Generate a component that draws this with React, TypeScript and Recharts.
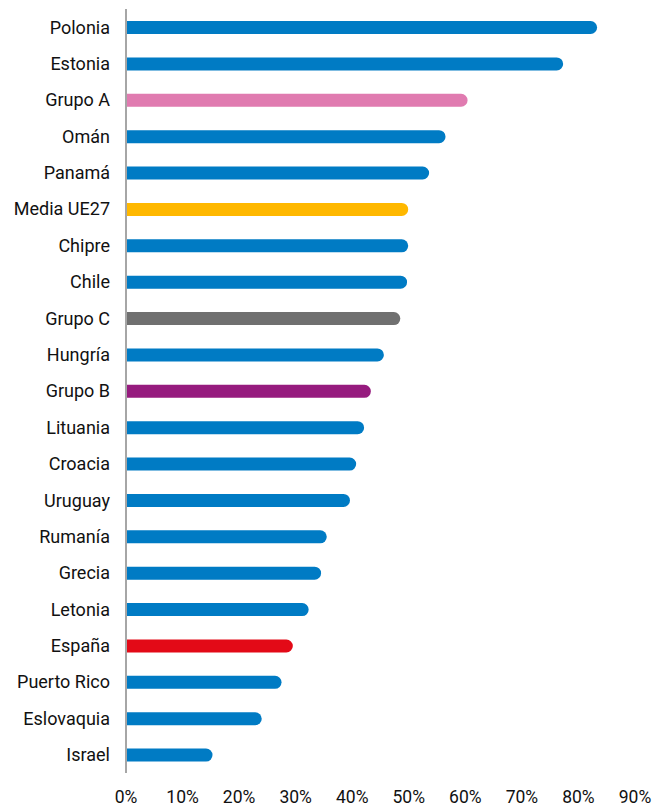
import { BarChart, Bar, XAxis, YAxis, Cell } from 'recharts';

const countries = [
  'Polonia', 'Estonia', 'Grupo A', 'Omán', 'Panamá', 'Media UE27', 'Chipre', 'Chile',
  'Grupo C', 'Hungría', 'Grupo B', 'Lituania', 'Croacia', 'Uruguay', 'Rumanía',
  'Grecia', 'Letonia', 'España', 'Puerto Rico', 'Eslovaquia', 'Israel',
];
const shares = [
  83.3, 77.3, 60.4, 56.5, 53.6, 49.9, 49.9, 49.7, 48.5, 45.6, 43.3, 42.1, 40.7,
  39.6, 35.5, 34.5, 32.3, 29.5, 27.5, 24.0, 15.3,
];
const ticks = [0, 10, 20, 30, 40, 50, 60, 70, 80, 90];

const BLUE = '#007BC4';
const highlight: Record<string, string> = {
  'Grupo A': '#E07BB0',
  'Media UE27': '#FFB800',
  'Grupo C': '#707070',
  'Grupo B': '#961B7E',
  'España': '#E30A17',
};

const chartData = countries.map((name, i) => ({ name, value: shares[i] }));

export default function App() {
  return (
    <div style={{ position: 'absolute', left: 0, top: 0, fontFamily: 'Roboto, sans-serif' }}>
      <BarChart
        width={668}
        height={806}
        data={chartData}
        layout="vertical"
        margin={{ top: 9, right: 33, bottom: 0, left: 0 }}
        barCategoryGap={0}
      >
        <XAxis
          type="number"
          domain={[0, 90]}
          ticks={ticks}
          tickFormatter={(v) => `${v}%`}
          axisLine={false}
          tickLine={false}
          tickMargin={12}
          height={33}
          interval={0}
          tick={{ fill: '#111', fontSize: 17.5 }}
        />
        <YAxis
          type="category"
          dataKey="name"
          width={126}
          axisLine={{ stroke: '#a6a6a6', strokeWidth: 2 }}
          tickLine={false}
          tickMargin={10}
          interval={0}
          tick={{ fill: '#111', fontSize: 18 }}
        />
        <Bar dataKey="value" barSize={13} radius={[0, 7, 7, 0]} isAnimationActive={false}>
          {chartData.map((d) => (
            <Cell key={d.name} fill={highlight[d.name] ?? BLUE} />
          ))}
        </Bar>
      </BarChart>
    </div>
  );
}
